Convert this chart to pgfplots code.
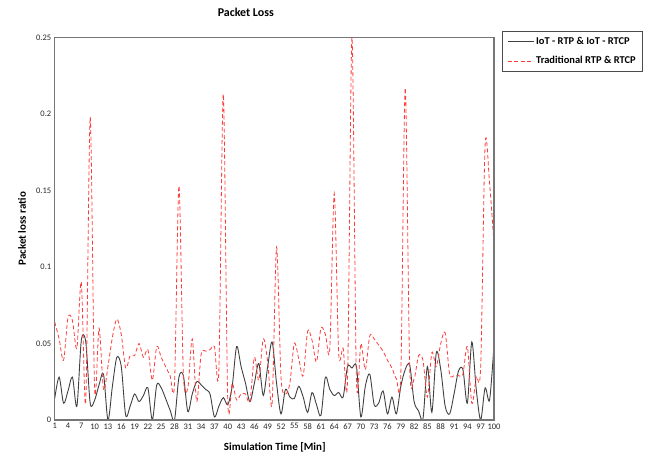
\documentclass[border=0pt]{standalone}
\usepackage{fontspec}
\setmainfont{Carlito}
\usepackage{pgfplots}
\usepackage{pgfplotstable}
\pgfplotsset{compat=1.18}

\definecolor{iotline}{RGB}{64,64,64}
\definecolor{tradline}{RGB}{255,60,60}
\definecolor{frame}{RGB}{118,118,118}

% IoT - RTP & IoT - RTCP
\pgfplotstableread{
t v
1 0.014
2 0.028
3 0.011
4 0.019
5 0.028
6 0.009
7 0.052
8 0.051
9 0.011
10 0.013
11 0.023
12 0.030
13 0.0
14 0.022
15 0.041
16 0.035
17 0.003
18 0.009
19 0.017
20 0.012
21 0.016
22 0.021
23 0.0
24 0.023
25 0.021
26 0.014
27 0.0065
28 0.0
29 0.028
30 0.029
31 0.0055
32 0.017
33 0.025
34 0.023
35 0.020
36 0.017
37 0.002
38 0.009
39 0.0146
40 0.010
41 0.022
42 0.048
43 0.035
44 0.024
45 0.012
46 0.024
47 0.037
48 0.016
49 0.035
50 0.051
51 0.024
52 0.004
53 0.020
54 0.015
55 0.014
56 0.022
57 0.015
58 0.005
59 0.018
60 0.010
61 0.003
62 0.028
63 0.020
64 0.016
65 0.018
66 0.015
67 0.035
68 0.034
69 0.035
70 0.002
71 0.022
72 0.030
73 0.010
74 0.011
75 0.019
76 0.004
77 0.015
78 0.004
79 0.022
80 0.033
81 0.036
82 0.012
83 0.006
84 0.001
85 0.035
86 0.005
87 0.044
88 0.033
89 0.009
90 0.004
91 0.017
92 0.032
93 0.033
94 0.011
95 0.051
96 0.020
97 0.0
98 0.021
99 0.013
100 0.049
}\iotdata

% Traditional RTP & RTCP
\pgfplotstableread{
t v
1 0.064
2 0.053
3 0.039
4 0.067
5 0.065
6 0.047
7 0.090
8 0.012
9 0.198
10 0.020
11 0.060
12 0.020
13 0.035
14 0.054
15 0.066
16 0.056
17 0.034
18 0.042
19 0.042
20 0.050
21 0.041
22 0.046
23 0.026
24 0.048
25 0.041
26 0.035
27 0.029
28 0.024
29 0.153
30 0.030
31 0.021
32 0.053
33 0.012
34 0.043
35 0.045
36 0.046
37 0.048
38 0.033
39 0.213
40 0.013
41 0.024
42 0.013
43 0.017
44 0.017
45 0.012
46 0.041
47 0.026
48 0.053
49 0.038
50 0.011
51 0.113
52 0.028
53 0.017
54 0.024
55 0.050
56 0.040
57 0.029
58 0.058
59 0.052
60 0.038
61 0.060
62 0.056
63 0.047
64 0.148
65 0.044
66 0.047
67 0.027
68 0.250
69 0.026
70 0.050
71 0.033
72 0.055
73 0.053
74 0.049
75 0.045
76 0.039
77 0.034
78 0.027
79 0.030
80 0.217
81 0.035
82 0.027
83 0.042
84 0.039
85 0.015
86 0.044
87 0.035
88 0.050
89 0.057
90 0.030
91 0.029
92 0.029
93 0.030
94 0.048
95 0.011
96 0.028
97 0.035
98 0.180
99 0.155
100 0.115
}\traddata

\begin{document}
\begin{tikzpicture}
\path[use as bounding box] (-54.7bp,-37bp) rectangle (595.3bp,420bp);
\begin{axis}[
  scale only axis,
  width=439.3bp, height=382.5bp,
  xmin=1, xmax=100, ymin=0, ymax=0.25,
  xtick={1,4,...,100},
  ytick={0,0.05,0.1,0.15,0.2,0.25},
  major tick length=0pt,
  axis line style={draw=frame, line width=1bp},
  tick label style={font=\fontsize{8.5}{10}\selectfont, text=black!85},
  /pgf/number format/assume math mode=true,
  yticklabel style={/pgf/number format/fixed, /pgf/number format/precision=2},
  scaled y ticks=false,
  title={Packet Loss},
  title style={at={(axis description cs:0.435,1.05)}, anchor=center,
    font=\bfseries\fontsize{12}{14}\selectfont},
  xlabel={Simulation Time [Min]},
  ylabel={Packet loss ratio},
  label style={font=\bfseries\fontsize{11}{13}\selectfont},
  xlabel style={at={(axis description cs:0.501,-0.0706)}, anchor=center},
  ylabel style={at={(axis description cs:-0.0745,0.5)}, anchor=center},
  legend style={at={(axis description cs:1.018,1.017)}, anchor=north west,
    draw=black!70, line width=0.8bp, font=\bfseries\fontsize{10.5}{12}\selectfont,
    inner xsep=5bp, inner ysep=3.5bp, row sep=7bp},
  legend cell align=left,
  legend image code/.code={\path (0bp,0bp) -- (26bp,0bp);
    \draw[#1] (0bp,0bp) -- (23bp,0bp);},
  after end axis/.code={
    \draw[frame, line width=1.1bp] (rel axis cs:0,0) rectangle (rel axis cs:1,1);},
]
\addplot[iotline, line width=0.9bp, smooth, tension=0.5] table[x=t, y=v] {\iotdata};
\addlegendentry{IoT - RTP \& IoT - RTCP}
\addplot[tradline, line width=0.8bp, dash pattern=on 4bp off 2.5bp, smooth, tension=0.5] table[x=t, y=v] {\traddata};
\addlegendentry{Traditional RTP \& RTCP}
\end{axis}
\end{tikzpicture}
\end{document}
